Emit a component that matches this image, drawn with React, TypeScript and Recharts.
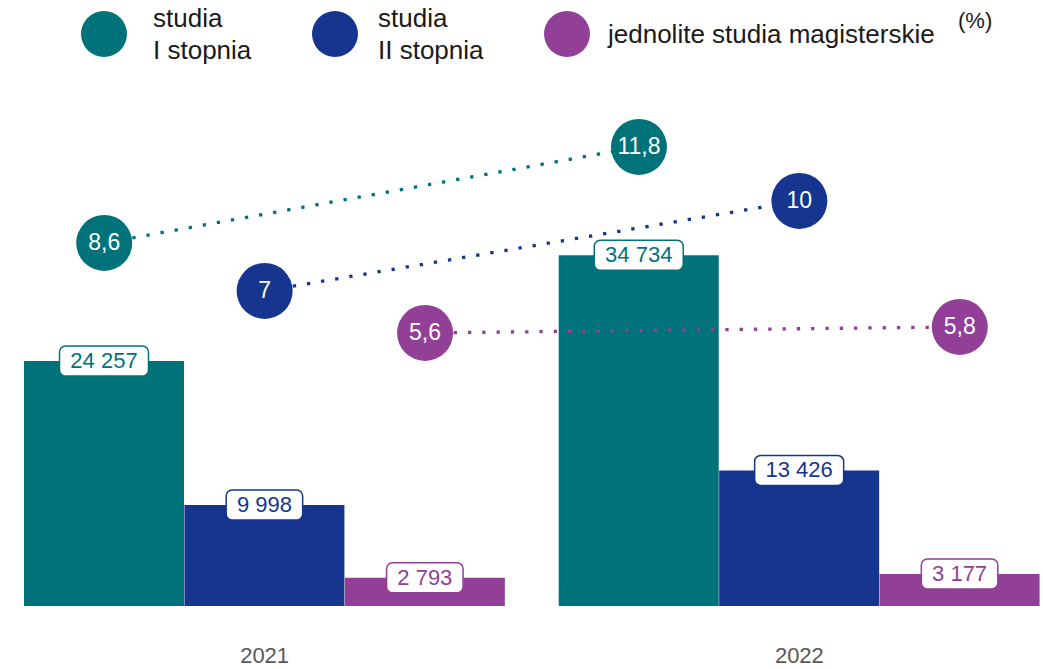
import React from 'react';
import { ComposedChart, Bar, Line, XAxis, YAxis, Cell, LabelList } from 'recharts';

const years = ['2021', '2022'];
const seriesNames = [['studia', 'I stopnia'], ['studia', 'II stopnia'], ['jednolite studia magisterskie']];
const studentsI = [24257, 34734];
const studentsII = [9998, 13426];
const studentsJSM = [2793, 3177];
const pctI = [8.6, 11.8];
const pctII = [7, 10];
const pctJSM = [5.6, 5.8];

const COLORS = ['#00737a', '#15358f', '#923f98'];
const FONT = '"Liberation Sans", Arial, Helvetica, sans-serif';
const GROUP_GAP = 1 / 3; // gap between year groups, in bar widths
const W = 1043;
const H = 669;

const counts = [studentsI, studentsII, studentsJSM];
const pcts = [pctI, pctII, pctJSM];

const data: any[] = [];
years.forEach((year, g) => {
  counts.forEach((arr, s) => {
    const row: any = { x: g * (3 + GROUP_GAP) + s + 0.5, value: arr[g], series: s, year };
    row[`p${s}`] = pcts[s][g];
    data.push(row);
  });
});

const yearTicks = years.map((_, g) => g * (3 + GROUP_GAP) + 1.5);

const fmtCount = (v: number) => String(v).replace(/\B(?=(\d{3})+(?!\d))/g, ' ');
const fmtPct = (v: number) => String(v).replace('.', ',');

const ValueLabel = (props: any) => {
  const { x, y, width, value, index } = props;
  if (value == null) return null;
  const color = COLORS[data[index].series];
  const text = fmtCount(value);
  const w = text.length * 12.5 + 14;
  const cx = x + width / 2;
  return (
    <g>
      <rect x={cx - w / 2} y={y - 15} width={w} height={30} rx={6} ry={6} fill="#fff" stroke={color} strokeWidth={1.5} />
      <text x={cx} y={y + 1} textAnchor="middle" dominantBaseline="middle" fontSize={22} fill={color} fontFamily={FONT}>
        {text}
      </text>
    </g>
  );
};

const makeDot = (color: string) => (props: any) => {
  const { cx, cy, value, index } = props;
  if (value == null || cx == null || cy == null) return <g key={`d-${index}`} />;
  return (
    <g key={`d-${index}`}>
      <circle cx={cx} cy={cy} r={28} fill={color} />
      <text x={cx} y={cy + 1} textAnchor="middle" dominantBaseline="middle" fontSize={23} fill="#fff" fontFamily={FONT}>
        {fmtPct(value)}
      </text>
    </g>
  );
};

const Legend = () => {
  const items = [
    { cx: 104, tx: 153 },
    { cx: 335, tx: 378 },
    { cx: 567, tx: 608 },
  ];
  return (
    <>
      {items.map((it, i) => (
        <React.Fragment key={i}>
          <div style={{ position: 'absolute', left: it.cx - 23, top: 11, width: 46, height: 46, borderRadius: '50%', background: COLORS[i] }} />
          <div style={{ position: 'absolute', left: it.tx, top: seriesNames[i].length > 1 ? 2 : 18, fontSize: 26, lineHeight: '32px', color: '#1a1a1a', whiteSpace: 'nowrap' }}>
            {seriesNames[i].map((l, j) => (
              <div key={j}>{l}</div>
            ))}
          </div>
        </React.Fragment>
      ))}
      <div style={{ position: 'absolute', left: 958, top: 8, fontSize: 22, color: '#1a1a1a' }}>(%)</div>
    </>
  );
};

export default function App() {
  return (
    <div style={{ position: 'fixed', left: 0, top: 0, width: W, height: H, background: '#fff', fontFamily: FONT }}>
      <Legend />
      <div style={{ position: 'absolute', left: 0, top: 0 }}>
        <ComposedChart width={W} height={H} data={data} margin={{ top: 101, right: 3, bottom: 13, left: 24 }}>
          <XAxis
            type="number"
            dataKey="x"
            domain={[0, 6 + GROUP_GAP]}
            ticks={yearTicks}
            tickFormatter={(v: number) => years[yearTicks.findIndex((t) => Math.abs(t - v) < 0.01)] ?? ''}
            axisLine={false}
            tickLine={false}
            tickSize={0}
            tickMargin={41}
            height={50}
            interval={0}
            tick={{ fontSize: 22, fill: '#595959', fontFamily: FONT }}
          />
          <YAxis yAxisId="n" hide domain={[0, 50000]} />
          <YAxis yAxisId="pct" hide domain={[-3.5, 13.33]} orientation="right" />
          <Bar yAxisId="n" dataKey="value" barSize={160} isAnimationActive={false}>
            {data.map((d, i) => (
              <Cell key={i} fill={COLORS[d.series]} />
            ))}
            <LabelList dataKey="value" content={ValueLabel} />
          </Bar>
          {COLORS.map((c, s) => (
            <Line
              key={s}
              yAxisId="pct"
              dataKey={`p${s}`}
              type="linear"
              stroke={c}
              strokeWidth={3.3}
              strokeDasharray="3.3 11"
              connectNulls
              dot={makeDot(c)}
              activeDot={false}
              isAnimationActive={false}
            />
          ))}
        </ComposedChart>
      </div>
    </div>
  );
}
